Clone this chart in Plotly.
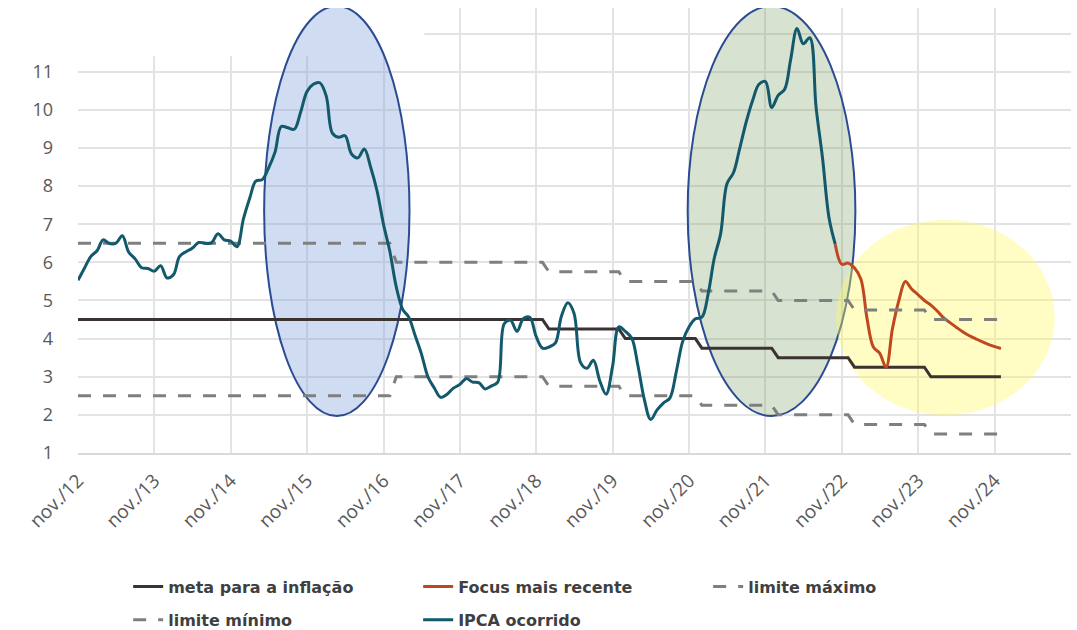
import pandas as pd
import plotly.graph_objects as go

# IPCA acumulado em 12 meses (nov/12 a out/22)
ipca_inicio = "2012-11-01"
ipca_12m = [5.53, 5.84,
            6.15, 6.31, 6.59, 6.49, 6.50, 6.70, 6.27, 6.09, 5.86, 5.84, 5.77, 5.91,
            5.59, 5.68, 6.15, 6.28, 6.37, 6.52, 6.50, 6.51, 6.75, 6.59, 6.56, 6.41,
            7.14, 7.70, 8.13, 8.17, 8.47, 8.89, 9.56, 9.53, 9.49, 9.93, 10.48, 10.67,
            10.71, 10.36, 9.39, 9.28, 9.32, 8.84, 8.74, 8.97, 8.48, 7.87, 6.99, 6.29,
            5.35, 4.76, 4.57, 4.08, 3.60, 3.00, 2.71, 2.46, 2.54, 2.70, 2.80, 2.95,
            2.86, 2.84, 2.68, 2.76, 2.86, 4.39, 4.48, 4.19, 4.53, 4.56, 4.05, 3.75,
            3.78, 3.89, 4.58, 4.94, 4.66, 3.37, 3.22, 3.43, 2.89, 2.54, 3.27, 4.31,
            4.19, 4.01, 3.30, 2.40, 1.88, 2.13, 2.31, 2.44, 3.14, 3.92, 4.31, 4.52,
            4.56, 5.20, 6.10, 6.76, 8.06, 8.35, 8.99, 9.68, 10.25, 10.67, 10.74, 10.06,
            10.38, 10.54, 11.30, 12.13, 11.73, 11.89, 10.07, 8.73, 7.17, 6.47]

# Focus mais recente (out/22 a dez/24)
focus_inicio = "2022-10-01"
focus = [6.47, 5.95, 5.98,
         5.85, 5.55, 4.55, 3.78, 3.62, 3.25, 4.25, 5.00, 5.50, 5.30, 5.15, 5.00,
         4.88, 4.72, 4.55, 4.42, 4.30, 4.18, 4.08, 4.00, 3.92, 3.85, 3.79, 3.74]

# metas anuais e limites de tolerância
anos = [2012, 2013, 2014, 2015, 2016, 2017, 2018, 2019, 2020, 2021, 2022, 2023, 2024]
meta = [4.5, 4.5, 4.5, 4.5, 4.5, 4.5, 4.5, 4.25, 4.0, 3.75, 3.5, 3.25, 3.0]
lim_max = [6.5, 6.5, 6.5, 6.5, 6.5, 6.0, 6.0, 5.75, 5.5, 5.25, 5.0, 4.75, 4.5]
lim_min = [2.5, 2.5, 2.5, 2.5, 2.5, 3.0, 3.0, 2.75, 2.5, 2.25, 2.0, 1.75, 1.5]

ticks_x = ["nov./12", "nov./13", "nov./14", "nov./15", "nov./16", "nov./17", "nov./18",
           "nov./19", "nov./20", "nov./21", "nov./22", "nov./23", "nov./24", ""]

datas_ipca = pd.date_range(ipca_inicio, periods=len(ipca_12m), freq="MS")
datas_focus = pd.date_range(focus_inicio, periods=len(focus), freq="MS")
datas_meta = pd.date_range("2012-11-01", "2024-12-01", freq="MS")


def por_ano(valores):
    m = dict(zip(anos, valores))
    return [m[d.year] for d in datas_meta]


GRAY = "#7f7f7f"
DASH = "13px,12px"
fig = go.Figure()

# primeira linha da legenda
fig.add_trace(go.Scatter(x=datas_meta, y=por_ano(meta), name="meta para a inflação",
                         mode="lines", line=dict(color="#3b3232", width=3), legend="legend"))
fig.add_trace(go.Scatter(x=datas_focus, y=focus, name="Focus mais recente", legend="legend",
                         mode="lines", line=dict(color="#c0471f", width=3, shape="spline")))
fig.add_trace(go.Scatter(x=datas_meta, y=por_ano(lim_max), name="limite máximo", legend="legend",
                         mode="lines", line=dict(color=GRAY, width=3, dash=DASH)))
# segunda linha da legenda
fig.add_trace(go.Scatter(x=datas_meta, y=por_ano(lim_min), name="limite mínimo", legend="legend2",
                         mode="lines", line=dict(color=GRAY, width=3, dash=DASH)))
fig.add_trace(go.Scatter(x=datas_ipca, y=ipca_12m, name="IPCA ocorrido", legend="legend2",
                         mode="lines", line=dict(color="#12596b", width=3, shape="spline")))

# área apagada no topo à esquerda, e as elipses de destaque
fig.add_shape(type="rect", xref="x", yref="y", x0="2012-09-01", x1="2017-05-15", y0=11.41, y1=13,
              fillcolor="white", line_width=0, layer="between")
fig.add_shape(type="circle", xref="x", yref="y", x0="2015-04-10", x1="2017-03-05",
              y0=1.97, y1=12.72, fillcolor="rgba(120,155,215,0.35)",
              line=dict(color="#2b4c92", width=2), layer="between")
fig.add_shape(type="circle", xref="x", yref="y", x0="2020-10-25", x1="2023-01-05",
              y0=1.97, y1=12.72, fillcolor="rgba(110,150,90,0.28)",
              line=dict(color="#2b4c92", width=2), layer="between")
fig.add_shape(type="circle", xref="x", yref="y", x0="2022-10-05", x1="2025-08-15",
              y0=1.99, y1=7.12, fillcolor="rgba(255,250,100,0.38)",
              line_width=0, layer="between")

tick_dates = pd.date_range("2012-11-01", periods=len(ticks_x), freq="12MS")

fig.update_xaxes(range=["2012-11-01", "2025-11-01"], tickvals=tick_dates, ticktext=ticks_x,
                 tickangle=-45, showgrid=True, gridcolor="#e3e3e3", gridwidth=1.5,
                 showline=True, linecolor="#d9d9d9", linewidth=2, zeroline=False,
                 automargin=False, ticklabelstandoff=7,
                 tickfont=dict(family="Open Sans", size=19, color="#595959"))
fig.update_yaxes(range=[1, 12.67], tickvals=list(range(1, 13)),
                 ticktext=[str(i) for i in range(1, 12)] + [""],
                 showgrid=True, gridcolor="#e3e3e3", gridwidth=1.5, zeroline=False,
                 ticks="", ticklabelstandoff=24, automargin=False,
                 tickfont=dict(family="Open Sans", size=18, color="#595959"))

legend_font = dict(family="DejaVu Sans", size=16, color="#3f3f3f", weight="bold")
fig.update_layout(
    width=1077, height=630,
    margin=dict(l=78, r=6, t=8, b=177),
    plot_bgcolor="white", paper_bgcolor="white",
    legend=dict(orientation="h", xref="container", yref="container",
                x=0.119, xanchor="left", y=0.069, yanchor="middle",
                entrywidth=245, entrywidthmode="pixels", font=legend_font),
    legend2=dict(orientation="h", xref="container", yref="container",
                 x=0.119, xanchor="left", y=0.016, yanchor="middle",
                 entrywidth=245, entrywidthmode="pixels", font=legend_font),
)

fig.write_html("out.html", config={"displayModeBar": False},
               post_script="document.body.style.margin = '0px';")
